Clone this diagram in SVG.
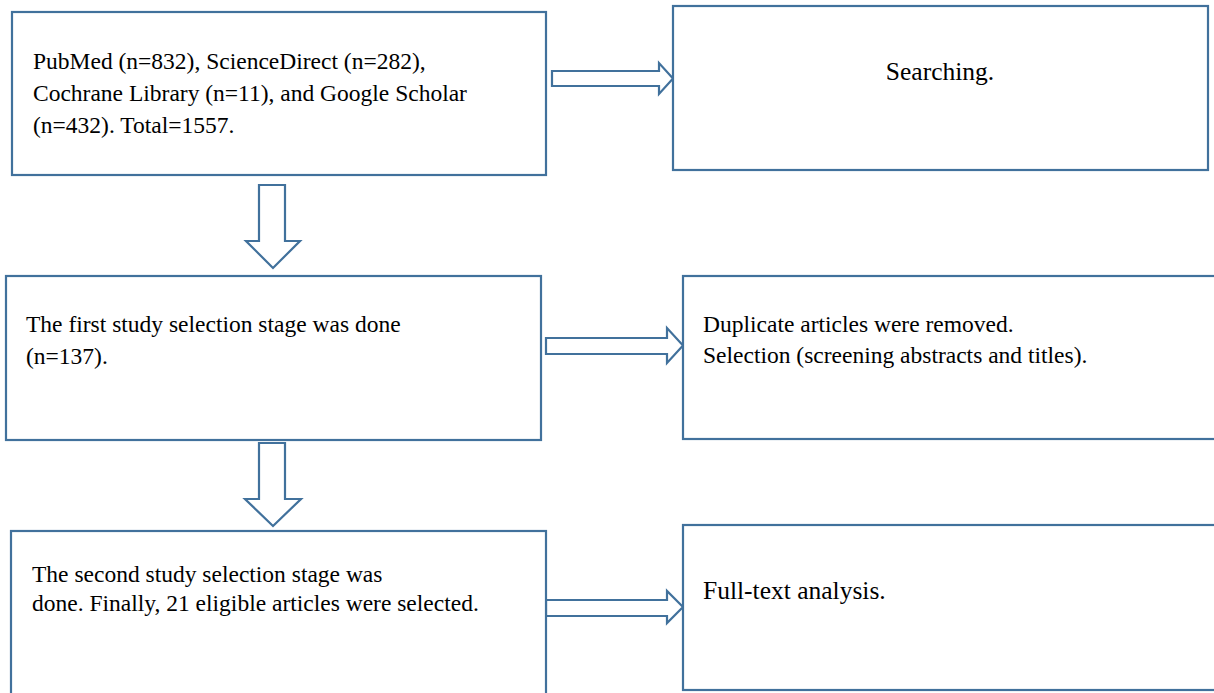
<svg xmlns="http://www.w3.org/2000/svg" width="1214" height="693" viewBox="0 0 1214 693">
<style>
.box{fill:#fff;stroke:#41719c;stroke-width:2.2}
.arr{fill:#fff;stroke:#41719c;stroke-width:2.2;stroke-linejoin:miter}
.t{font-family:"Liberation Serif","Times New Roman",serif;font-size:23.5px;fill:#000}
.tl{font-family:"Liberation Serif","Times New Roman",serif;font-size:25.5px;fill:#000}
</style>
<rect width="1214" height="693" fill="#fff"/>
<g id="connectors">
<path class="arr" d="M552,71 H659 V63 L673,78.5 L659,94 V86 H552 Z"/>
<path class="arr" d="M259,185 H285 V241 H300 L273,268 L246,241 H259 Z"/>
<path class="arr" d="M546,338 H667 V328 L683,345.5 L667,363 V354 H546 Z"/>
<path class="arr" d="M259,443 H285 V499 H301 L273,526 L245,499 H259 Z"/>
<path class="arr" d="M546,600 H667 V591 L683,607 L667,623 V616 H546 Z"/>
</g>
<g id="node-sources">
<rect class="box" x="12" y="12" width="534" height="163"/>
<text class="t" x="33" y="69">PubMed (n=832), ScienceDirect (n=282),</text>
<text class="t" x="33" y="101">Cochrane Library (n=11), and Google Scholar</text>
<text class="t" x="33" y="133">(n=432). Total=1557.</text>
</g>
<g id="node-searching">
<rect class="box" x="673" y="6" width="535" height="164"/>
<text class="tl" x="940" y="80" text-anchor="middle">Searching.</text>
</g>
<g id="node-first">
<rect class="box" x="6" y="276" width="535" height="164"/>
<text class="t" x="26" y="332">The first study selection stage was done</text>
<text class="t" x="26" y="364">(n=137).</text>
</g>
<g id="node-duplicate">
<rect class="box" x="683" y="276" width="540" height="163"/>
<text class="t" x="703" y="332">Duplicate articles were removed.</text>
<text class="t" x="703" y="363">Selection (screening abstracts and titles).</text>
</g>
<g id="node-second">
<rect class="box" x="11" y="531" width="535" height="175"/>
<text class="t" x="32" y="582">The second study selection stage was</text>
<text class="t" x="32" y="611">done. Finally, 21 eligible articles were selected.</text>
</g>
<g id="node-fulltext">
<rect class="box" x="683" y="525" width="540" height="165"/>
<text class="tl" x="703" y="599">Full-text analysis.</text>
</g>
</svg>
